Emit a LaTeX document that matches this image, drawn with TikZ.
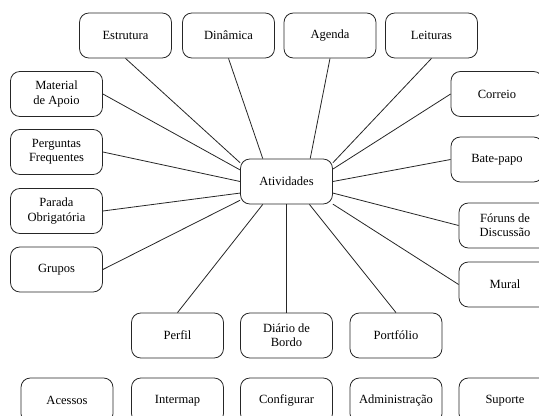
\documentclass[tikz,border=0pt]{standalone}
\usepackage{fontspec}
\setmainfont{Liberation Serif}
\usepackage{tikz}

\begin{document}
\begin{tikzpicture}[x=0.75pt,y=-0.75pt,
  box/.style={draw=black!85,rounded corners=7pt,line width=0.6pt,minimum width=69pt,minimum height=33.75pt,inner sep=1pt,align=center,font=\fontsize{9.4pt}{10.8pt}\selectfont}]
\useasboundingbox (0,0) rectangle (539,416);
\clip (0,0) rectangle (539,416);
%center
\node at (286.5,181.5) [box](atividades){Atividades};
%top row
\node at (125.5,35.5) [box](estrutura){Estrutura};
\node at (228.5,35.5) [box](dinamica){Dinâmica};
\node at (330,35.5) [box](agenda){Agenda};
\node at (431.5,35.5) [box](leituras){Leituras};
%left column
\node at (56.5,94) [box](material){Material\\de Apoio};
\node at (56.5,152) [box](perguntas){Perguntas\\Frequentes};
\node at (56.5,211) [box](parada){Parada\\Obrigatória};
\node at (56.5,269.5) [box](grupos){Grupos};
%right column
\node at (497,94) [box](correio){Correio};
\node at (497,159.5) [box](batepapo){Bate-papo};
\node at (505,225.5) [box](foruns){Fóruns de\\Discussão};
\node at (505,284.5) [box](mural){Mural};
%bottom
\node at (177.5,335.5) [box](perfil){Perfil};
\node at (286.5,335.5) [box](diario){Diário de\\Bordo};
\node at (396,335.5) [box](portfolio){Portfólio};
\node at (67,400.5) [box](acessos){Acessos};
\node at (177.5,400.5) [box](intermap){Intermap};
\node at (286.5,400.5) [box](configurar){Configurar};
\node at (396,400.5) [box](administracao){Administração};
\node at (505,400.5) [box](suporte){Suporte};
\begin{scope}[line width=0.6pt,black!85]
\draw (atividades.158) edge (estrutura.south);
\draw (atividades.136) edge (dinamica.south);
\draw (atividades.44) edge (agenda.south);
\draw (atividades.22) edge (leituras.south);
\draw (atividades.166) edge (material.east);
\draw (atividades.west) edge (perguntas.east);
\draw (atividades.194) edge (parada.east);
\draw (atividades.202) edge (grupos.east);
\draw (atividades.15) edge (correio.west);
\draw (atividades.east) edge (batepapo.west);
\draw (atividades.346) edge (foruns.west);
\draw (atividades.334) edge (mural.west);
\draw (atividades.224) edge (perfil.north);
\draw (atividades.south) edge (diario.north);
\draw (atividades.315) edge (portfolio.north);
\end{scope}
\end{tikzpicture}
\end{document}
